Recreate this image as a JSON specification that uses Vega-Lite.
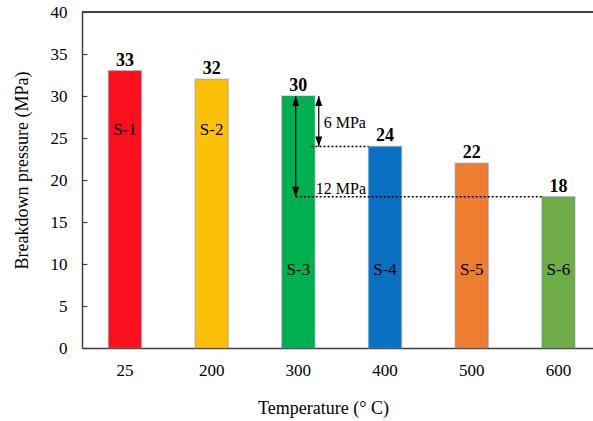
{
  "$schema": "https://vega.github.io/schema/vega-lite/v6.json",
  "width": 511,
  "height": 336,
  "autosize": {"type": "none"},
  "padding": {"left": 82, "top": 12, "right": 0, "bottom": 73},
  "background": "white",
  "config": {
    "view": {"stroke": null},
    "font": "Liberation Serif",
    "text": {"font": "Liberation Serif", "color": "black"},
    "axis": {
      "labelFont": "Liberation Serif",
      "titleFont": "Liberation Serif",
      "labelColor": "black",
      "titleColor": "black",
      "labelFontSize": 17,
      "titleFontSize": 18,
      "titleFontWeight": "normal",
      "grid": false,
      "domainColor": "#404040",
      "domainWidth": 1.5,
      "tickColor": "#404040",
      "tickWidth": 1.2
    }
  },
  "datasets": {
    "samples": [
      {"temperature": "25", "pressure": 33, "sample": "S-1"},
      {"temperature": "200", "pressure": 32, "sample": "S-2"},
      {"temperature": "300", "pressure": 30, "sample": "S-3"},
      {"temperature": "400", "pressure": 24, "sample": "S-4"},
      {"temperature": "500", "pressure": 22, "sample": "S-5"},
      {"temperature": "600", "pressure": 18, "sample": "S-6"}
    ]
  },
  "layer": [
    {
      "data": {"name": "samples"},
      "encoding": {
        "x": {
          "field": "temperature",
          "type": "ordinal",
          "sort": null,
          "scale": {
            "domain": ["25", "200", "300", "400", "500", "600"],
            "paddingInner": 0.62,
            "paddingOuter": 0.257,
            "align": 0.594
          },
          "axis": {
            "title": "Temperature (° C)",
            "labelFont": "Liberation Serif",
            "titleFont": "Liberation Serif",
            "labelAngle": 0,
            "ticks": false,
            "labelPadding": 14,
            "titleX": 241,
            "titleY": 60,
            "titleBaseline": "middle",
            "titleAlign": "center"
          }
        },
        "y": {
          "field": "pressure",
          "type": "quantitative",
          "scale": {"domain": [0, 40], "nice": false},
          "axis": {
            "title": "Breakdown  pressure (MPa)",
            "labelFont": "Liberation Serif",
            "titleFont": "Liberation Serif",
            "values": [0, 5, 10, 15, 20, 25, 30, 35, 40],
            "tickSize": -5,
            "labelPadding": 20,
            "titleX": -60,
            "titleY": 158,
            "titleAngle": -90,
            "titleAlign": "center",
            "titleBaseline": "middle"
          }
        }
      },
      "layer": [
        {
          "mark": {
            "type": "bar",
            "stroke": "#6d7fa0",
            "strokeOpacity": 0.4,
            "strokeWidth": 1.5
          },
          "encoding": {
            "color": {
              "field": "sample",
              "type": "nominal",
              "scale": {
                "domain": ["S-1", "S-2", "S-3", "S-4", "S-5", "S-6"],
                "range": ["#f8101c", "#fdc00a", "#00b050", "#0a70c4", "#ed7d31", "#6eac48"]
              },
              "legend": null
            }
          }
        },
        {
          "mark": {
            "type": "text",
            "font": "Liberation Serif",
            "baseline": "alphabetic",
            "dy": -5,
            "fontSize": 18,
            "fontWeight": "bold"
          },
          "encoding": {"text": {"field": "pressure", "type": "quantitative"}}
        },
        {
          "transform": [{"filter": {"field": "sample", "oneOf": ["S-1", "S-2"]}}],
          "mark": {"type": "text", "font": "Liberation Serif", "baseline": "middle", "fontSize": 17},
          "encoding": {
            "y": {"datum": 26, "type": "quantitative"},
            "text": {"field": "sample", "type": "nominal"}
          }
        },
        {
          "transform": [{"filter": {"field": "sample", "oneOf": ["S-3", "S-4", "S-5", "S-6"]}}],
          "mark": {"type": "text", "font": "Liberation Serif", "baseline": "middle", "fontSize": 17},
          "encoding": {
            "y": {"datum": 9.3, "type": "quantitative"},
            "text": {"field": "sample", "type": "nominal"}
          }
        }
      ]
    },
    {
      "data": {"values": [{"top": 40}]},
      "mark": {"type": "rule", "color": "#404040", "strokeWidth": 2},
      "encoding": {"y": {"field": "top", "type": "quantitative"}}
    },
    {
      "data": {"values": [{"from": 30, "to": 18}]},
      "layer": [
        {
          "mark": {"type": "rule", "color": "black", "strokeWidth": 1.2},
          "encoding": {
            "x": {"datum": "300", "type": "ordinal", "bandPosition": 0.42},
            "y": {"field": "from", "type": "quantitative"},
            "y2": {"field": "to"}
          }
        },
        {
          "mark": {"type": "point", "shape": "M0,0L-0.7,2L0.7,2Z", "filled": true, "color": "black", "opacity": 1, "size": 100},
          "encoding": {
            "x": {"datum": "300", "type": "ordinal", "bandPosition": 0.42},
            "y": {"field": "from", "type": "quantitative"}
          }
        },
        {
          "mark": {"type": "point", "shape": "M0,0L-0.7,-2L0.7,-2Z", "filled": true, "color": "black", "opacity": 1, "size": 100},
          "encoding": {
            "x": {"datum": "300", "type": "ordinal", "bandPosition": 0.42},
            "y": {"field": "to", "type": "quantitative"}
          }
        },
        {
          "mark": {"type": "rule", "color": "black", "strokeWidth": 1.5, "strokeDash": [2, 2]},
          "encoding": {
            "x": {"datum": "300", "type": "ordinal", "bandPosition": 0.42},
            "x2": {"datum": "600", "bandPosition": 0},
            "y": {"field": "to", "type": "quantitative"}
          }
        },
        {
          "mark": {"type": "text", "font": "Liberation Serif", "align": "left", "baseline": "middle", "fontSize": 16},
          "encoding": {
            "x": {"datum": "300", "type": "ordinal", "bandPosition": 1.03},
            "y": {"datum": 18.9, "type": "quantitative"},
            "text": {"value": "12 MPa"}
          }
        }
      ]
    },
    {
      "data": {"values": [{"from": 30, "to": 24}]},
      "layer": [
        {
          "mark": {"type": "rule", "color": "black", "strokeWidth": 1.2},
          "encoding": {
            "x": {"datum": "300", "type": "ordinal", "bandPosition": 1.12},
            "y": {"field": "from", "type": "quantitative"},
            "y2": {"field": "to"}
          }
        },
        {
          "mark": {"type": "point", "shape": "M0,0L-0.7,2L0.7,2Z", "filled": true, "color": "black", "opacity": 1, "size": 100},
          "encoding": {
            "x": {"datum": "300", "type": "ordinal", "bandPosition": 1.12},
            "y": {"field": "from", "type": "quantitative"}
          }
        },
        {
          "mark": {"type": "point", "shape": "M0,0L-0.7,-2L0.7,-2Z", "filled": true, "color": "black", "opacity": 1, "size": 100},
          "encoding": {
            "x": {"datum": "300", "type": "ordinal", "bandPosition": 1.12},
            "y": {"field": "to", "type": "quantitative"}
          }
        },
        {
          "mark": {"type": "rule", "color": "black", "strokeWidth": 1.5, "strokeDash": [2, 2]},
          "encoding": {
            "x": {"datum": "300", "type": "ordinal", "bandPosition": 0.9},
            "x2": {"datum": "400", "bandPosition": 0},
            "y": {"field": "to", "type": "quantitative"}
          }
        },
        {
          "mark": {"type": "text", "font": "Liberation Serif", "align": "left", "baseline": "middle", "fontSize": 16},
          "encoding": {
            "x": {"datum": "300", "type": "ordinal", "bandPosition": 1.27},
            "y": {"datum": 26.8, "type": "quantitative"},
            "text": {"value": "6 MPa"}
          }
        }
      ]
    }
  ]
}
